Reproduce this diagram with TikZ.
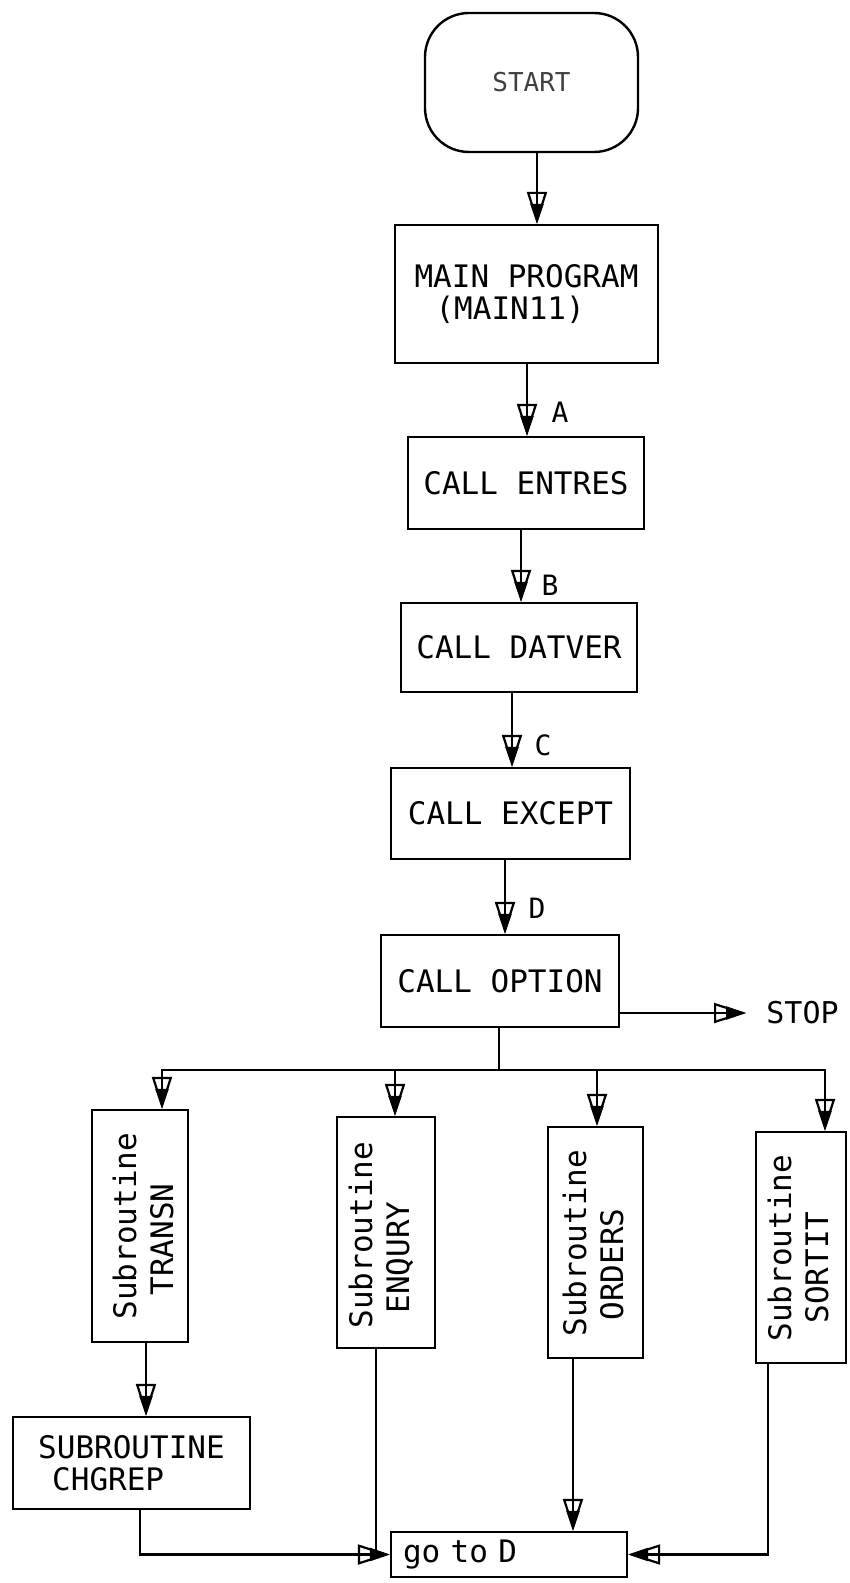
\documentclass[tikz,border=0pt]{standalone}
\usepackage{fontspec}
\newfontfamily\lett{DejaVu Sans Mono}
\usetikzlibrary{arrows.meta}
\tikzset{
  line/.style={line width=1.2pt},
  box/.style={draw, line width=1.2pt, inner sep=0pt, align=left,
    font=\lett\fontsize{15.5pt}{16pt}\selectfont},
  sublbl/.style={rotate=90, inner sep=0pt, align=left,
    font=\lett\fontsize{15.5pt}{18.5pt}\selectfont},
  lbl/.style={inner sep=0pt, font=\lett\fontsize{14pt}{16pt}\selectfont},
  flowopen/.style={line width=1.1pt, line join=miter, -{Triangle[open,length=16pt,width=10pt]}},
  flowfill/.style={line width=1.2pt, -{Triangle[length=10pt,width=6.5pt]}}
}
\newcommand\flowto[1]{\draw[flowopen] #1; \draw[flowfill] #1;}
\begin{document}
\begin{tikzpicture}[x=0.5pt,y=-0.5pt]
\useasboundingbox (0,0) rectangle (850,1583);
% x positions of connectors
\coordinate (a0) at (537,0);
\coordinate (a1) at (527,0);
\coordinate (a2) at (521,0);
\coordinate (a3) at (512,0);
\coordinate (a4) at (505,0);
\coordinate (t1) at (162,0);
\coordinate (t2) at (395,0);
\coordinate (t3) at (597,0);
\coordinate (t4) at (825,0);
\coordinate (t5) at (140,0);
\coordinate (t6) at (376,0);
\coordinate (t7) at (573,0);
\coordinate (t8) at (768,0);
\coordinate (t9) at (146,0);
\coordinate (sy) at (0,1013);
% main column
\node[box, minimum width=106.5pt, minimum height=69.5pt, rounded corners=22pt,
      text=black!75, font=\lett\fontsize{13pt}{15pt}\selectfont] (start) at (531.5,82.5) {START};
\node[box, minimum width=131.5pt, minimum height=69pt] (main) at (526.5,294)
  {MAIN PROGRAM\\\hspace*{10.5pt}(MAIN11)};
\node[box, minimum width=118pt, minimum height=46pt] (entres) at (526,483) {CALL ENTRES};
\node[box, minimum width=118pt, minimum height=44.5pt] (datver) at (519,647.5) {CALL DATVER};
\node[box, minimum width=119.5pt, minimum height=45.5pt] (except) at (510.5,813.5) {CALL EXCEPT};
\node[box, minimum width=119pt, minimum height=46pt] (option) at (500,981) {CALL OPTION};
\node[lbl, anchor=west, font=\lett\fontsize{15pt}{16pt}\selectfont] (stop) at (766,1013) {STOP};
% subroutines
\node[box, minimum width=48pt, minimum height=116pt] (transn) at (140,1226) {};
\node[sublbl] (transnt) at (143,1226) {Subroutine\\\hspace*{12pt}TRANSN};
\node[box, minimum width=49pt, minimum height=115.5pt] (enq) at (386,1232.5) {};
\node[sublbl] (enqt) at (381,1235) {Subroutine\\\hspace*{7.5pt}ENQURY};
\node[box, minimum width=47.5pt, minimum height=115.5pt] (ord) at (595.5,1242.5) {};
\node[sublbl] (ordt) at (593,1243) {Subroutine\\\hspace*{8pt}ORDERS};
\node[box, minimum width=45pt, minimum height=115.5pt] (sort) at (801,1247.5) {};
\node[sublbl] (sortt) at (798,1248) {Subroutine\\\hspace*{9pt}SORTIT};
\node[box, minimum width=118.5pt, minimum height=46pt] (chg) at (131.5,1463)
  {SUBROUTINE\\\hspace*{7pt}CHGREP};
\node[box, minimum height=22.5pt, inner xsep=6pt, text width=106pt] (goto) at (509,1554.5) {go to D};
% connectors
\flowto{(start.south -| a0) -- (main.north -| a0)}
\flowto{(main.south -| a1) -- (entres.north -| a1)}
\flowto{(entres.south -| a2) -- (datver.north -| a2)}
\flowto{(datver.south -| a3) -- (except.north -| a3)}
\flowto{(except.south -| a4) -- (option.north -| a4)}
\node[lbl] (la) at (560,412) {A};
\node[lbl] (lb) at (550,585) {B};
\node[lbl] (lc) at (543,745) {C};
\node[lbl] (ld) at (537,908) {D};
\flowto{(option.east |- sy) -- ([xshift=-10pt]stop.west)}
\coordinate (br) at (499,1070);
\draw[line] (option.south -| br) -- (br);
\flowto{(br) -| (transn.north -| t1)}
\flowto{(br) -| (enq.north -| t2)}
\flowto{(br) -| (ord.north -| t3)}
\flowto{(br) -| (sort.north -| t4)}
\flowto{(transn.south -| t9) -- (chg.north -| t9)}
\flowto{(chg.south -| t5) |- (goto.west)}
\draw[line] (enq.south -| t6) -- (goto.west -| t6);
\flowto{(ord.south -| t7) -- (goto.north -| t7)}
\flowto{(sort.south -| t8) |- (goto.east)}
\end{tikzpicture}
\end{document}
